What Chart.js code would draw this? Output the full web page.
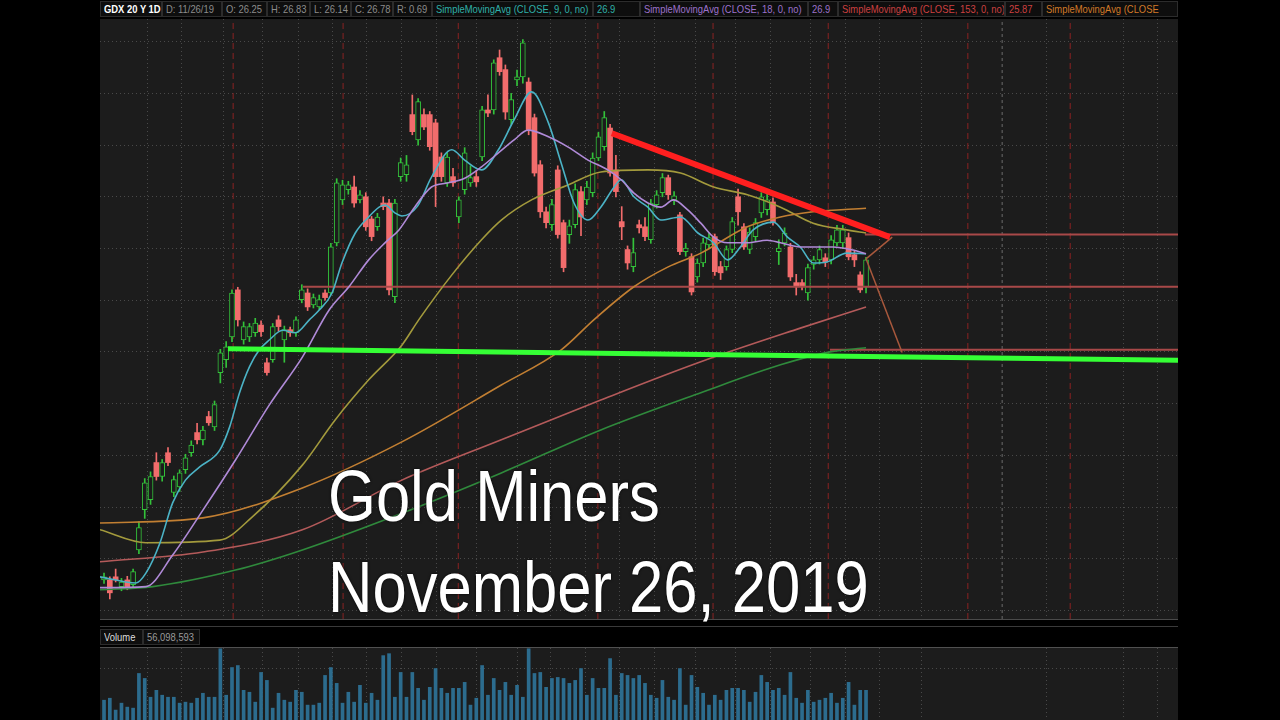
<!DOCTYPE html>
<html>
<head>
<meta charset="utf-8">
<script src="https://cdn.jsdelivr.net/npm/chart.js@4.4.1/dist/chart.umd.min.js"></script>
<style>
  html, body { margin: 0; padding: 0; background: #000; }
  body { width: 1280px; height: 720px; position: relative; overflow: hidden; font-family: "Liberation Sans", Arial, sans-serif; }
  .panel { position: absolute; left: 100px; width: 1078px; background: #1c1c1c; }
  #price { top: 19px; height: 600px; }
  #volume { top: 648px; height: 72px; }
  .cell { position: absolute; height: 16px; background: #0e0e0e; border: 1px solid #2c2c2c; box-sizing: border-box; overflow: hidden; }
  .cell span { position: absolute; left: 3px; top: 0px; font-size: 11px; line-height: 14px; white-space: nowrap; transform: scaleX(0.855); transform-origin: 0 0; }
  .rule { position: absolute; left: 100px; width: 1078px; height: 1px; background: #4a4a4a; }
  .big { position: absolute; left: 328px; color: #fff; font-size: 72px; line-height: 72px; white-space: nowrap; transform: scaleX(0.855); transform-origin: 0 0; text-shadow: 0 0 3px rgba(0,0,0,0.9); }
</style>
</head>
<body>
<div id="header"></div>
<canvas id="price" class="panel" width="1078" height="600"></canvas>
<div class="rule" style="top:619px"></div>
<div class="rule" style="top:626px;background:#3a3a3a"></div>
<div id="volrow"></div>
<div class="rule" style="top:647px;background:#505050"></div>
<canvas id="volume" class="panel" width="1078" height="72"></canvas>
<div class="big" style="top:460px">Gold Miners</div>
<div class="big" style="top:551px">November 26, 2019</div>

<script>
// ---- daily candles, GDX (oldest first) ----
const openP = [20.59,20.59,20.65,20.46,20.59,20.50,21.17,21.95,22.14,22.86,22.59,23.05,22.28,22.39,22.72,23.05,23.44,23.30,23.75,23.55,
  24.60,24.85,25.29,26.20,25.23,25.29,25.37,25.52,24.79,24.85,25.62,25.23,25.43,25.37,26.01,26.14,25.91,25.87,26.14,26.14,
  27.11,27.94,28.14,28.19,27.94,28.00,27.57,27.42,27.88,27.88,26.07,28.39,28.43,29.59,29.10,29.59,29.59,29.43,28.77,28.27,
  28.39,27.61,28.14,28.27,28.39,28.77,29.68,29.68,30.69,30.46,29.49,30.26,30.32,30.22,29.53,28.62,27.71,27.46,28.52,27.50,
  27.27,27.46,28.10,27.94,28.08,28.75,28.97,29.33,28.52,27.52,26.98,26.65,27.46,27.42,27.17,27.85,28.08,28.37,27.94,27.65,
  26.94,26.84,26.45,26.72,27.07,27.23,26.65,26.65,26.98,28.00,27.42,26.98,27.23,27.69,27.75,27.90,26.94,27.11,27.03,26.34,
  26.34,26.14,26.69,26.78,26.82,26.78,27.11,27.11,27.21,26.88,26.49,26.25];
const highP = [20.72,20.65,20.80,20.62,20.66,20.80,21.72,22.55,22.68,23.05,22.92,23.15,22.60,22.72,23.02,23.28,23.62,23.56,23.85,24.05,
  25.05,25.20,26.20,26.25,25.58,25.55,25.65,25.60,24.88,25.55,25.70,25.50,25.48,25.68,26.30,26.22,26.12,26.10,26.20,27.10,
  28.35,28.32,28.30,28.40,28.12,28.08,27.62,27.68,28.00,27.95,27.95,28.75,28.80,29.97,29.90,29.70,29.65,29.50,28.85,28.85,
  28.55,28.00,28.95,28.60,28.50,29.75,29.97,30.65,30.84,30.55,30.00,30.45,31.04,30.30,29.60,28.70,27.80,27.95,28.60,27.55,
  27.55,28.25,28.20,28.30,28.85,29.25,29.65,29.40,28.80,27.81,27.05,27.20,27.55,27.60,27.95,28.12,28.45,28.42,28.10,27.70,
  27.10,26.90,26.80,27.20,27.30,27.28,26.75,27.05,27.60,28.15,27.48,27.40,27.58,28.08,28.05,27.98,27.17,27.40,27.10,26.50,
  26.40,26.70,26.85,27.05,26.90,27.25,27.45,27.45,27.30,26.95,26.55,26.83];
const lowP = [20.52,20.22,20.55,20.38,20.40,20.44,21.10,21.78,22.05,22.52,22.50,22.80,22.20,22.30,22.65,22.98,23.22,23.20,23.58,23.48,
  24.40,24.70,25.20,25.50,25.15,25.20,25.30,25.30,24.55,24.80,25.40,24.80,25.30,25.30,25.95,25.80,25.85,25.82,26.00,26.10,
  27.05,27.85,28.05,27.80,27.88,27.35,27.15,27.35,27.75,26.10,25.95,28.30,28.30,29.20,29.00,29.30,28.90,27.81,28.30,28.20,
  28.20,27.50,28.05,28.20,28.20,28.70,29.55,29.60,30.35,29.50,29.40,30.15,30.20,29.20,28.40,27.60,27.40,27.35,27.20,26.55,
  27.10,27.40,27.25,27.85,28.00,28.70,28.90,28.40,28.00,27.17,26.60,26.55,27.30,27.15,27.10,27.78,28.00,27.95,27.85,26.88,
  26.85,26.10,26.35,26.65,27.00,26.48,26.40,26.58,26.92,27.45,26.98,26.90,27.15,27.60,27.65,27.45,26.69,27.05,26.38,26.10,
  26.20,26.00,26.60,26.70,26.65,26.70,27.05,27.00,26.78,26.65,26.15,26.14];
const closeP = [20.65,20.34,20.59,20.55,20.46,20.75,21.60,22.47,22.59,22.59,22.86,22.86,22.53,22.66,22.95,23.20,23.30,23.49,23.63,23.98,
  24.98,25.10,26.14,25.62,25.49,25.49,25.56,25.39,24.60,25.49,25.49,25.43,25.37,25.62,26.20,25.87,26.05,26.01,26.05,27.03,
  28.27,28.23,28.23,27.88,28.04,27.42,27.23,27.61,27.81,26.20,27.88,28.66,28.62,29.26,29.84,29.35,28.97,28.39,28.39,28.77,
  28.27,27.94,28.85,28.37,28.29,29.68,29.62,30.59,30.42,29.64,29.88,30.32,30.98,29.30,28.46,27.71,27.50,27.85,27.27,26.63,
  27.44,28.14,27.61,28.19,28.75,29.16,29.53,28.46,28.10,27.42,26.72,26.92,27.40,27.23,27.88,28.04,28.37,28.04,28.02,26.94,
  27.01,26.16,26.72,27.11,27.21,26.55,26.53,26.98,27.52,27.71,27.03,27.32,27.50,28.00,27.94,27.52,27.01,27.30,26.45,26.26,
  26.28,26.63,26.78,26.98,26.74,27.17,27.36,27.36,26.84,26.78,26.20,26.78];
// daily volume, millions of shares
const volumeM = [37.4,41.1,18.7,31.8,24.3,22.4,87.9,78.5,43.0,56.1,46.8,43.0,43.0,31.8,33.7,31.8,41.1,50.5,43.0,43.0,
  134.6,46.8,99.1,102.9,56.1,52.4,33.7,89.8,74.8,22.4,50.5,37.4,33.7,56.1,52.4,28.1,28.1,31.8,84.2,99.1,
  69.2,31.8,52.4,33.7,65.5,31.8,50.5,37.4,121.6,125.3,43.0,89.8,43.0,89.8,59.8,37.4,61.7,97.2,59.8,50.5,
  59.8,59.8,71.1,28.1,41.1,102.9,46.8,78.5,56.1,
  71.1,46.8,65.5,43.0,134.6,87.9,89.8,61.7,78.5,80.4,78.5,69.2,74.8,97.2,46.8,78.5,59.8,59.8,116.0,46.8,
  87.9,84.2,78.5,84.2,69.2,46.8,41.1,74.8,43.0,37.4,97.2,28.1,84.2,61.7,50.5,28.1,46.8,37.4,56.1,59.8,
  59.8,56.1,33.7,52.4,84.2,71.1,56.1,59.8,46.8,89.8,41.1,31.8,56.1,33.7,37.4,41.1,50.5,31.8,41.1,71.1,
  28.1,56.1,56.1];

// ---- moving averages: [bar index, price] ----
const sma9 = [[-0.7,20.65],[5.5,20.53],[7.2,20.72],[9.6,21.30],[11.8,22.08],[14.0,22.52],[16.4,22.77],[19.9,23.10],[21.6,23.55],
  [23.3,24.21],[25.0,24.71],[26.7,25.04],[28.4,25.23],[30.7,25.42],[32.9,25.37],[35.3,25.62],[37.0,25.81],[39.2,26.14],
  [40.9,26.72],[43.2,27.30],[45.5,27.61],[47.3,27.80],[48.3,27.84],[50.0,27.69],[51.2,27.63],[53.9,27.82],[56.3,28.38],
  [59.8,28.91],[62.0,28.71],[64.9,28.52],[67.8,28.91],[70.5,29.49],[73.5,30.03],[76.4,29.43],[78.6,28.65],[80.8,27.88],
  [83.2,27.55],[85.4,27.80],[87.7,28.19],[88.9,28.33],[91.1,28.00],[93.5,27.80],[95.7,27.55],[99.1,27.61],[102.1,27.30],
  [104.8,27.11],[107.2,26.78],[109.4,27.03],[111.6,27.36],[115.1,27.51],[117.5,27.22],[119.7,27.03],[121.9,26.72],
  [124.3,26.74],[127.7,26.91],[131,26.90]];
const sma18 = [[-0.7,20.44],[7.2,20.46],[11.8,21.07],[17.0,21.94],[22.6,22.91],[28.4,23.97],[34.1,24.90],[38.7,25.81],
  [42.1,26.26],[45.5,26.78],[48.3,27.11],[50.7,27.36],[53.4,27.80],[56.3,28.19],[59.2,28.27],[62.0,28.36],[64.9,28.58],
  [67.8,28.85],[70.5,29.10],[72.9,29.29],[76.4,29.16],[79.8,28.96],[83.2,28.71],[86.6,28.52],[88.9,28.33],[91.1,28.07],
  [93.5,27.88],[95.7,27.80],[97.9,27.94],[100.3,27.75],[102.6,27.49],[104.8,27.22],[107.2,27.11],[110.6,27.11],
  [114.0,27.16],[116.3,27.11],[119.7,27.03],[125.3,27.03],[128.8,26.97],[131,26.90]];
const sma50 = [[-0.7,21.56],[7.2,21.31],[19.9,21.36],[25.5,21.81],[34.1,22.81],[39.7,23.68],[45.5,24.46],[51.2,25.13],
  [54.1,25.62],[59.8,26.49],[64.9,27.17],[68.3,27.55],[73.5,27.94],[79.8,28.23],[85.4,28.48],[93.5,28.52],[99.1,28.46],
  [104.8,28.19],[110.6,28.04],[116.3,27.80],[121.9,27.49],[127.7,27.36],[131,27.30]];
const sma100 = [[-0.7,21.69],[17.0,21.79],[34.1,22.37],[51.2,23.26],[68.3,24.36],[78.6,25.04],[84.2,25.62],[91.1,26.26],
  [96.9,26.64],[102.6,26.91],[110.6,27.42],[116.3,27.61],[121.9,27.71],[131,27.78]];
const sma153 = [[-0.7,20.94],[17.0,21.13],[34.1,21.56],[51.2,22.52],[68.3,23.30],[85.4,24.07],[102.6,24.81],
  [119.7,25.46],[131,25.87]];
const sma200 = [[-0.7,20.40],[8.4,20.46],[22.6,20.78],[34.1,21.17],[51.2,21.88],[68.3,22.66],[85.4,23.49],[102.6,24.21],
  [116.3,24.75],[124.8,25.00],[131,25.08]];

// ---- drawings on the chart ----
const redTrend = [[87.3,29.23],[135.1,27.22]];
const greenSupport = [[21.3,25.06],[184.63,24.84]];
const levelLines = [[34.2,26.26],[130.8,27.27],[124.8,25.04]];   // [start bar, price], run to right edge
const projUp = [[131,26.80],[135.5,27.22]];
const projDown = [[131,26.80],[137.2,24.99]];
const monthLines = [22.2, 41.1, 60.9, 84.9, 104.7, 124.5, 148.5, 166.1];
const yearLine = [154.4];
const gridX = [7.4,13.4,20.5,27.3,33.4,39.2,45.2,51.2,57.2,64.1,71.0,76.7,82.7,88.7,94.7,101.6,108.5,114.5,121.4,127.4,
  133.4,140.6,162.1,175.2,181.1];
const volGrid = [97];

// pane ranges
const X_MIN = -0.69, X_MAX = 184.63;
const Y_MIN = 19.834, Y_MAX = 31.439;

// header cells
const headCells = [
  [100,162,'GDX 20 Y 1D','#ffffff',true],
  [162,222,'D: 11/26/19','#8c8c8c'],
  [222,267,'O: 26.25','#8c8c8c'],
  [267,310,'H: 26.83','#8c8c8c'],
  [310,351,'L: 26.14','#8c8c8c'],
  [351,393,'C: 26.78','#8c8c8c'],
  [393,432,'R: 0.69','#8c8c8c'],
  [432,593,'SimpleMovingAvg (CLOSE, 9, 0, no)','#2fb0a8'],
  [593,640,'26.9','#2fb0a8'],
  [640,808,'SimpleMovingAvg (CLOSE, 18, 0, no)','#9d72cc'],
  [808,838,'26.9','#9d72cc'],
  [838,1005,'SimpleMovingAvg (CLOSE, 153, 0, no)','#cc4040'],
  [1005,1042,'25.87','#cc4040'],
  [1042,1178,'SimpleMovingAvg (CLOSE','#d27a28']
];
const volCells = [
  [100,143,'Volume','#dddddd'],
  [143,200,'56,098,593','#9a9a9a']
];

function addCells(holder, cells, top) {
  cells.forEach(c => {
    let d = document.createElement('div');
    d.className = 'cell';
    d.style.left = c[0] + 'px';
    d.style.width = (c[1] - c[0]) + 'px';
    d.style.top = top + 'px';
    let s = document.createElement('span');
    s.textContent = c[2];
    s.style.color = c[3];
    if (c[4]) s.style.fontWeight = 'bold';
    d.appendChild(s);
    holder.appendChild(d);
  });
}
addCells(document.getElementById('header'), headCells, 1);
addCells(document.getElementById('volrow'), volCells, 629);

const upColor = '#33c23a';
const downColor = '#f26c6c';
const candleColor = openP.map((o, i) => closeP[i] >= o ? upColor : downColor);

function pts(list) {
  return list.map(p => ({x: p[0], y: p[1]}));
}
function maLine(list, color, order) {
  return {type: 'line', data: pts(list), borderColor: color, borderWidth: 1.6, pointRadius: 0,
    tension: 0.4, cubicInterpolationMode: 'monotone', fill: false, order: order};
}
function straight(list, color, width, order, dash) {
  return {type: 'line', data: pts(list), borderColor: color, borderWidth: width, pointRadius: 0,
    tension: 0, fill: false, order: order, borderDash: dash || [], borderCapStyle: 'butt'};
}

let datasets = [];
// month separators + year line
monthLines.forEach(v => datasets.push(straight([[v, Y_MIN], [v, Y_MAX]], 'rgba(150,34,34,0.9)', 1, 20, [6, 4])));
yearLine.forEach(v => datasets.push(straight([[v, Y_MIN], [v, Y_MAX]], 'rgba(170,170,170,0.55)', 1, 20, [3, 3])));
// level lines
levelLines.forEach(l => datasets.push(straight([l, [X_MAX, l[1]]], '#a84848', 2, 5)));
// candles: wicks then bodies
datasets.push({type: 'bar', data: lowP.map((l, i) => ({x: i, y: [l, highP[i]]})),
  backgroundColor: candleColor, barThickness: 1, grouped: false, order: 12, minBarLength: 1});
datasets.push({type: 'bar', data: openP.map((o, i) => ({x: i, y: [o, closeP[i]]})),
  backgroundColor: candleColor.map(c => c === upColor ? '#1c1c1c' : downColor),
  borderColor: candleColor, borderWidth: candleColor.map(c => c === upColor ? 1 : 0),
  borderSkipped: false, barThickness: 5, grouped: false, order: 11, minBarLength: 1});
// moving averages
datasets.push(maLine(sma200, '#2f8a3c', 4));
datasets.push(maLine(sma153, '#b45a5a', 4));
datasets.push(maLine(sma100, '#c27f32', 4));
datasets.push(maLine(sma50, '#a39a3c', 4));
datasets.push(maLine(sma18, '#b08ad8', 3));
datasets.push(maLine(sma9, '#4bb3c6', 3));
// hand drawn lines
datasets.push(straight(projUp, '#a8583c', 1.5, 2));
datasets.push(straight(projDown, '#a8583c', 1.5, 2));
datasets.push(straight(greenSupport, '#35ff35', 5, 1));
datasets.push(straight(redTrend, '#ff1f1f', 6, 1));

const gridOpts = {color: 'rgba(110,110,110,0.55)', drawTicks: false, offset: false, lineWidth: 1};

new Chart(document.getElementById('price'), {
  type: 'bar',
  data: {datasets: datasets},
  options: {
    responsive: false,
    animation: false,
    layout: {padding: 0},
    plugins: {legend: {display: false}, tooltip: {enabled: false}},
    scales: {
      x: {
        type: 'linear', min: X_MIN, max: X_MAX, offset: false,
        ticks: {display: false}, grid: gridOpts, border: {display: false, dash: [1, 3]},
        afterBuildTicks: s => { s.ticks = gridX.map(v => ({value: v})); }
      },
      y: {
        type: 'linear', min: Y_MIN, max: Y_MAX,
        ticks: {display: false, stepSize: 1, includeBounds: false},
        grid: gridOpts, border: {display: false, dash: [1, 3]}
      }
    }
  }
});

new Chart(document.getElementById('volume'), {
  type: 'bar',
  data: {datasets: [{data: volumeM.map((v, i) => ({x: i, y: v})), backgroundColor: '#2c6c8e',
    barThickness: 3, grouped: false}]},
  options: {
    responsive: false,
    animation: false,
    layout: {padding: 0},
    plugins: {legend: {display: false}, tooltip: {enabled: false}},
    scales: {
      x: {
        type: 'linear', min: X_MIN, max: X_MAX, offset: false,
        ticks: {display: false}, grid: gridOpts, border: {display: false, dash: [1, 3]},
        afterBuildTicks: s => { s.ticks = gridX.map(v => ({value: v})); }
      },
      y: {
        min: 0, max: 136,
        ticks: {display: false}, grid: gridOpts, border: {display: false, dash: [1, 3]},
        afterBuildTicks: s => { s.ticks = volGrid.map(v => ({value: v})); }
      }
    }
  }
});
</script>
</body>
</html>
